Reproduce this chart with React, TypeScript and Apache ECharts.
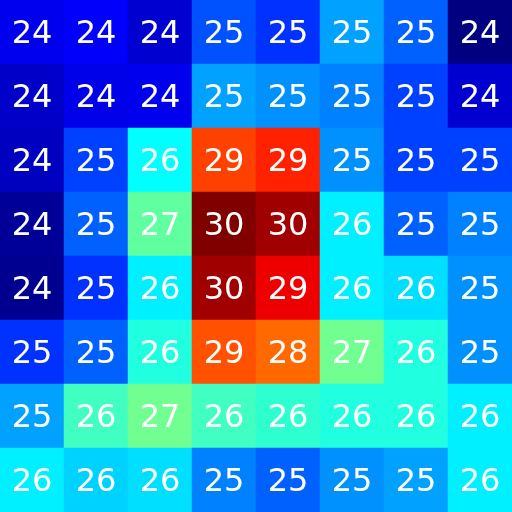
import React, { useEffect, useRef } from "react";
import * as echarts from "echarts";

const columns = ["0", "1", "2", "3", "4", "5", "6", "7"];
const rows = ["0", "1", "2", "3", "4", "5", "6", "7"];

const row0 = [24.22, 24.29, 24.02, 24.82, 24.62, 25.32, 24.92, 23.52];
const row1 = [23.97, 24.18, 24.22, 25.32, 25.22, 25.12, 24.72, 24.02];
const row2 = [23.92, 24.72, 25.91, 28.7, 28.9, 25.22, 24.72, 24.72];
const row3 = [23.68, 24.92, 26.51, 29.9, 29.7, 25.82, 24.92, 25.12];
const row4 = [23.62, 24.62, 25.82, 29.7, 29.2, 25.82, 25.71, 25.22];
const row5 = [24.62, 24.92, 26.11, 28.6, 28.45, 26.61, 26.11, 25.22];
const row6 = [25.32, 26.31, 26.61, 26.31, 26.2, 26.11, 26.11, 25.82];
const row7 = [25.82, 25.63, 25.71, 25.12, 24.92, 25.22, 25.32, 25.82];

const grid = [row0, row1, row2, row3, row4, row5, row6, row7];

const jetColors = [
  "#000080",
  "#0000ff",
  "#0080ff",
  "#00ffff",
  "#80ff80",
  "#ffff00",
  "#ff8000",
  "#ff0000",
  "#800000",
];

export default function App() {
  const ref = useRef<HTMLDivElement>(null);

  useEffect(() => {
    if (!ref.current) return;
    const chart = echarts.init(ref.current, null, { renderer: "svg" });
    const data: [number, number, number][] = [];
    grid.forEach((r, yi) => r.forEach((v, xi) => data.push([xi, yi, v])));
    const all = grid.flat();
    chart.setOption({
      animation: false,
      grid: { left: 0, right: 0, top: 0, bottom: 0 },
      xAxis: {
        type: "category",
        data: columns,
        show: false,
      },
      yAxis: {
        type: "category",
        data: rows,
        inverse: true,
        show: false,
      },
      visualMap: {
        show: false,
        type: "continuous",
        min: Math.min(...all),
        max: Math.max(...all),
        inRange: { color: jetColors },
      },
      series: [
        {
          type: "heatmap",
          data,
          label: {
            show: true,
            color: "#ffffff",
            fontFamily: "DejaVu Sans",
            fontSize: 32,
            formatter: (p: any) => String(Math.round(p.value[2])),
          },
          itemStyle: { borderWidth: 0 },
        },
      ],
    });
    return () => chart.dispose();
  }, []);

  return (
    <div
      ref={ref}
      style={{ position: "fixed", left: 0, top: 0, width: 512, height: 512 }}
    />
  );
}
